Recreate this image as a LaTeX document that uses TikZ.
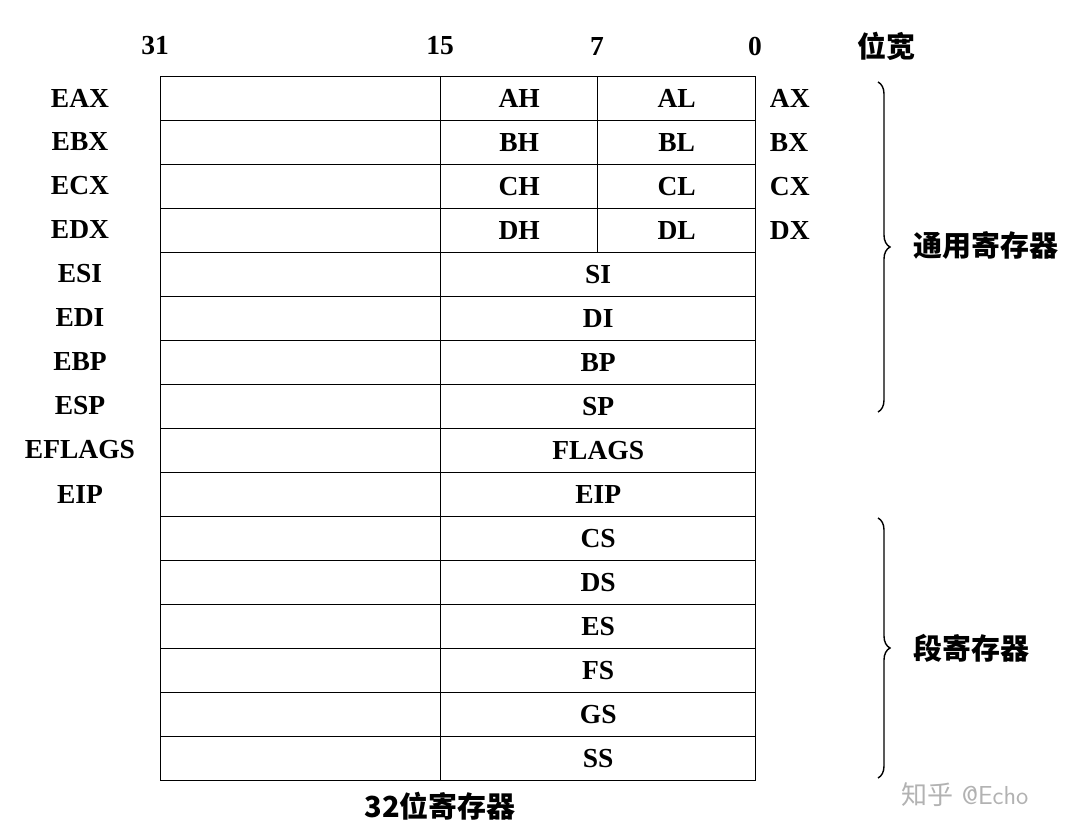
\documentclass[tikz,border=0pt]{standalone}
\usepackage{fontspec}
\setmainfont{Liberation Serif}
\newfontfamily\cjk{Noto Sans CJK SC}
\usetikzlibrary{positioning,decorations.pathreplacing}

\begin{document}
\begin{tikzpicture}[x=1pt, y=-1pt,
    lab/.style={font=\fontsize{27.5}{29}\selectfont\bfseries},
    hz/.style={font=\cjk\fontsize{29}{31}\selectfont\bfseries},
    cell/.style={draw, line width=1.4pt, minimum height=44pt, inner sep=0pt, anchor=north west, lab},
    br/.style={decorate, decoration={brace, amplitude=12pt}, line width=1.4pt}]
  \useasboundingbox (0,0) rectangle (1082,840);
  % bit widths
  \node[lab] (b31) at (155,46) {31};
  \node[lab] (b15) at (440,46) {15};
  \node[lab] (b7) at (597,46) {7};
  \node[lab] (b0) at (755,46) {0};
  \node[hz] (width) at (886,46) {位宽};
  % split rows
  \foreach \i/\e/\h/\l/\x in {0/EAX/AH/AL/AX, 1/EBX/BH/BL/BX, 2/ECX/CH/CL/CX, 3/EDX/DH/DL/DX} {
    \node[cell, minimum width=280pt] (hi\i) at (160,76+44*\i) {};
    \node[cell, minimum width=157pt] (h\i) at (440,76+44*\i) {\h};
    \node[cell, minimum width=158pt] (l\i) at (597,76+44*\i) {\l};
    \node[lab] (e\i) at (80,98+44*\i) {\e};
    \node[lab, right=10pt of l\i.east] (x\i) {\x};
  }
  % full rows
  \foreach \i/\e/\r in {4/ESI/SI, 5/EDI/DI, 6/EBP/BP, 7/ESP/SP, 8/EFLAGS/FLAGS, 9/EIP/EIP,
                        10//CS, 11//DS, 12//ES, 13//FS, 14//GS, 15//SS} {
    \node[cell, minimum width=280pt] (hi\i) at (160,76+44*\i) {};
    \node[cell, minimum width=315pt] (lo\i) at (440,76+44*\i) {\r};
    \node[lab] (e\i) at (80,98+44*\i) {\e};
  }
  % groups
  \coordinate (g1) at (878,82);
  \coordinate (g2) at (878,412);
  \coordinate (s1) at (878,518);
  \coordinate (s2) at (878,778);
  \draw[br] (g1) -- (g2);
  \draw[br] (s1) -- (s2);
  \node[hz, anchor=west] (gen) at (910,245) {通用寄存器};
  \node[hz, anchor=west] (seg) at (910,648) {段寄存器};
  \node[hz] (caption) at (440,806) {32位寄存器};
  \node[font=\fontsize{26}{28}\selectfont\sffamily, text=gray!60] (mark) at (965,795) {{\cjk 知乎} @Echo};
\end{tikzpicture}
\end{document}
